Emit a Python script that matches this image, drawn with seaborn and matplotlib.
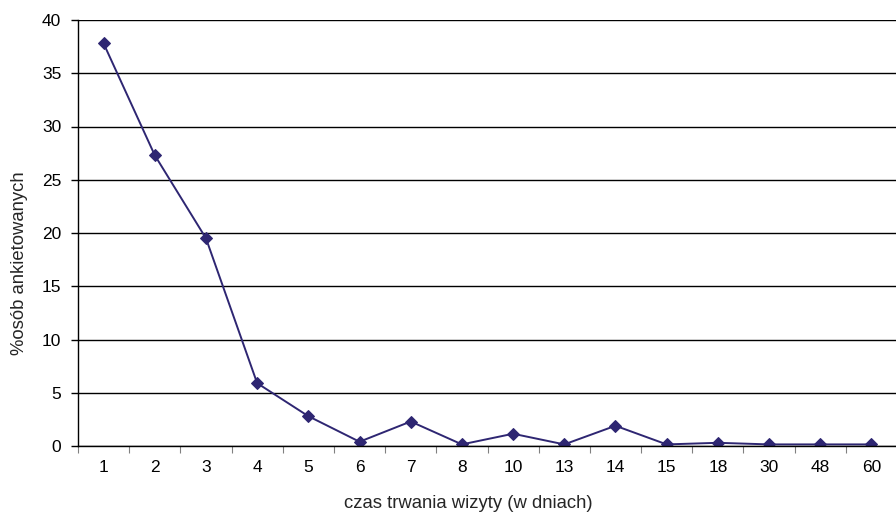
import matplotlib
matplotlib.use("Agg")
import matplotlib.pyplot as plt
import seaborn as sns
import pandas as pd
import numpy as np

days = ["1", "2", "3", "4", "5", "6", "7", "8", "10", "13", "14", "15", "18", "30", "48", "60"]
percent = [37.8, 27.3, 19.5, 5.9, 2.8, 0.4, 2.3, 0.15, 1.15, 0.15, 1.9, 0.15, 0.3, 0.15, 0.15, 0.15]

sns.set_style("white")
plt.rcParams["font.family"] = ["Liberation Sans", "DejaVu Sans"]

df = pd.DataFrame({"dni": days, "proc": percent})

fig = plt.figure(figsize=(8.96, 5.14), dpi=100)
ax = fig.add_axes([78 / 896, 1 - 446 / 514, 819 / 896, 426 / 514])

line_color = "#2E2672"
sns.lineplot(data=df, x="dni", y="proc", sort=False, ax=ax, color=line_color,
             linewidth=1.4, marker="D", markersize=6.5, markeredgecolor=line_color,
             markerfacecolor=line_color)

ax.set_ylim(0, 40)
ax.set_yticks(np.arange(0, 41, 5))
ax.set_xlim(-0.5, len(days) - 0.5)
ax.set_xticks(range(len(days)))
ax.set_xticklabels(days)
ax.set_xticks(np.arange(-0.5, len(days), 1), minor=True)

ax.yaxis.grid(True, color="black", linewidth=1.0)
ax.set_axisbelow(True)
for side in ["top", "right"]:
    ax.spines[side].set_visible(False)
for side in ["left", "bottom"]:
    ax.spines[side].set_color("black")
    ax.spines[side].set_linewidth(1.0)

ax.tick_params(axis="x", which="major", length=0, labelsize=12.5, pad=10, colors="black")
ax.tick_params(axis="x", which="minor", length=5, width=0.8, color="#808080", bottom=True)
ax.tick_params(axis="y", which="major", length=5, width=1.0, left=True, labelsize=12.5,
               colors="black", pad=7)

ax.set_xlabel("czas trwania wizyty (w dniach)", fontsize=13.3, va="center")
ax.set_ylabel("%osób ankietowanych", fontsize=13.3, va="center")
ax.xaxis.set_label_coords(0.476, -0.135)
ax.yaxis.set_label_coords(-0.0715, 0.43)

fig.savefig("out.png", dpi=100)
